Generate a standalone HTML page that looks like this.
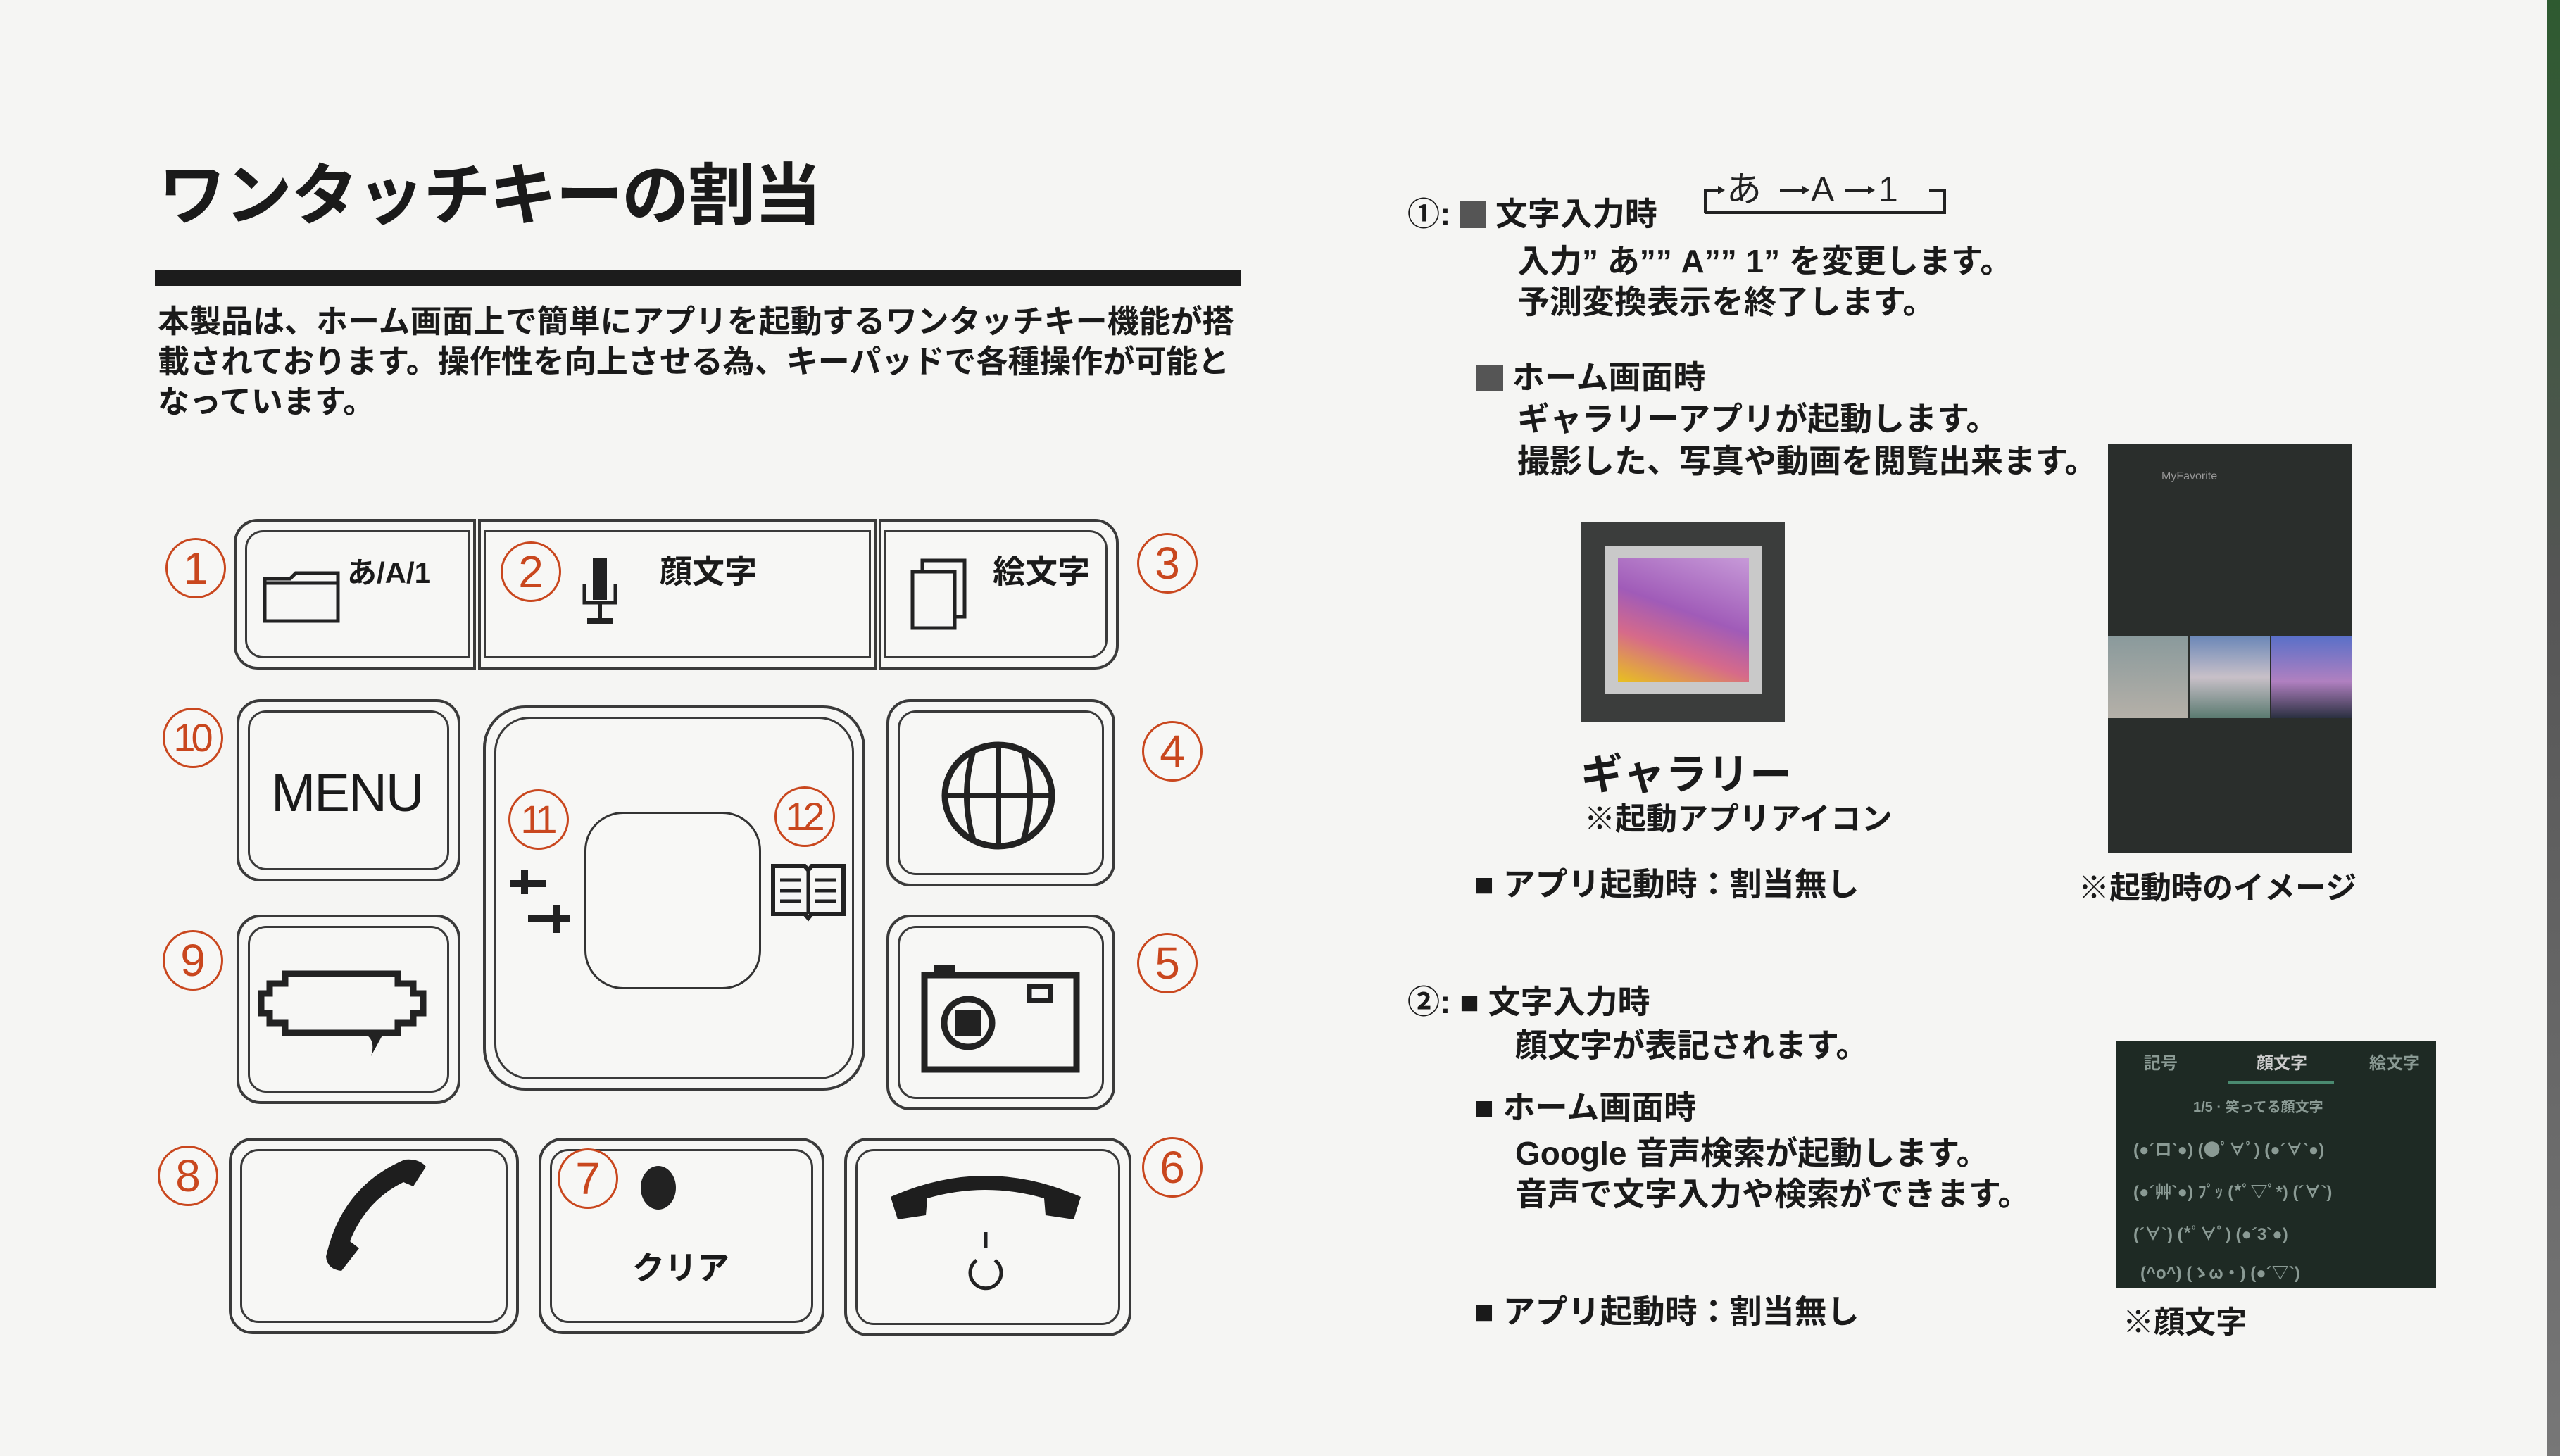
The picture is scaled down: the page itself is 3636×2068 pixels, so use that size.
<!DOCTYPE html>
<html><head><meta charset="utf-8"><style>
*{margin:0;padding:0;box-sizing:border-box}
body{width:3636px;height:2068px;background:#f5f5f3;position:relative;overflow:hidden;font-family:"Liberation Sans","Noto Sans CJK JP",sans-serif;color:#1a1a1a}
.a{position:absolute;white-space:nowrap}
.k{position:absolute;border:4px solid #3a3a3a;border-radius:34px;background:#f7f7f5}
.k>.i{position:absolute;left:12px;top:12px;right:12px;bottom:12px;border:3px solid #3a3a3a;border-radius:26px}
.c{position:absolute;width:86px;height:86px;border:3px solid #c9471e;border-radius:50%;color:#c9471e;font-size:64px;line-height:80px;text-align:center;font-family:"Liberation Sans",sans-serif;background:#f7f7f5}
.c.s{font-size:56px;letter-spacing:-6px;text-indent:-5px}
.t{font-size:46px;font-weight:bold}
.r{font-size:44px}
</style></head><body>
<div class="a" style="left:225px;top:200px;font-size:96px;font-weight:bold;letter-spacing:-2px">ワンタッチキーの割当</div>
<div class="a" style="left:220px;top:383px;width:1542px;height:23px;background:#1c1c1c"></div>
<div class="a" style="left:224px;top:428px;font-size:45px;font-weight:bold;line-height:57px">本製品は、ホーム画面上で簡単にアプリを起動するワンタッチキー機能が搭<br>載されております。操作性を向上させる為、キーパッドで各種操作が可能と<br>なっています。</div>

<!-- row1 -->
<div class="k" style="left:332px;top:737px;width:344px;height:214px;border-radius:34px 0 0 34px"><div class="i" style="border-radius:26px 0 0 26px;right:4px"></div></div>
<div class="k" style="left:679px;top:737px;width:566px;height:214px;border-radius:0"><div class="i" style="border-radius:0;left:4px;right:4px"></div></div>
<div class="k" style="left:1248px;top:737px;width:341px;height:214px;border-radius:0 34px 34px 0"><div class="i" style="border-radius:0 26px 26px 0;left:4px"></div></div>
<svg class="a" style="left:372px;top:800px" width="130" height="90" viewBox="0 0 130 90"><path d="M4 22 H40 L48 14 H108 V28 H4 Z M4 28 H108 V82 H4 Z" fill="none" stroke="#222" stroke-width="5"/></svg>
<div class="a" style="left:493px;top:780px;font-size:42px;font-weight:bold">あ/A/1</div>
<svg class="a" style="left:822px;top:790px" width="60" height="110" viewBox="0 0 60 110"><rect x="20" y="2" width="20" height="60" fill="#222"/><path d="M8 40 V66 H52 V40" fill="none" stroke="#222" stroke-width="5"/><rect x="27" y="66" width="6" height="24" fill="#222"/><rect x="12" y="88" width="36" height="8" fill="#222"/></svg>
<div class="a" style="left:937px;top:776px;font-size:46px;font-weight:bold">顔文字</div>
<svg class="a" style="left:1290px;top:790px" width="90" height="110" viewBox="0 0 90 110"><rect x="20" y="6" width="60" height="80" fill="none" stroke="#222" stroke-width="5"/><rect x="6" y="22" width="60" height="80" fill="#f7f7f5" stroke="#222" stroke-width="5"/></svg>
<div class="a" style="left:1410px;top:776px;font-size:46px;font-weight:bold">絵文字</div>

<!-- row2/3 -->
<div class="k" style="left:336px;top:993px;width:318px;height:259px"><div class="i"></div></div>
<div class="a" style="left:385px;top:1083px;font-size:76px;letter-spacing:-2px">MENU</div>
<div class="k" style="left:686px;top:1002px;width:543px;height:547px;border-radius:60px"><div class="i" style="border-radius:50px"></div></div>
<div class="a" style="left:830px;top:1153px;width:251px;height:252px;border:3px solid #333;border-radius:55px;background:#f8f8f6"></div>
<svg class="a" style="left:715px;top:1230px" width="100" height="100" viewBox="0 0 100 100"><path d="M10 25 H60 M30 5 V40 M35 75 H95 M75 55 V95" stroke="#222" stroke-width="10" fill="none"/></svg>
<svg class="a" style="left:1093px;top:1220px" width="110" height="90" viewBox="0 0 110 90"><path d="M5 10 H50 L55 16 L60 10 H105 V78 H60 L55 84 L50 78 H5 Z" fill="none" stroke="#222" stroke-width="6"/><path d="M55 16 V78 M15 30 H45 M15 45 H45 M15 60 H45 M65 30 H95 M65 45 H95 M65 60 H95" stroke="#222" stroke-width="5"/></svg>
<div class="k" style="left:1259px;top:993px;width:325px;height:266px"><div class="i"></div></div>
<svg class="a" style="left:1333px;top:1050px" width="170" height="160" viewBox="0 0 170 160"><ellipse cx="85" cy="80" rx="76" ry="72" fill="none" stroke="#222" stroke-width="9"/><path d="M85 8 V152 M9 80 H161 M50 15 Q30 80 50 145 M120 15 Q140 80 120 145" fill="none" stroke="#222" stroke-width="8"/></svg>
<div class="k" style="left:336px;top:1299px;width:318px;height:269px"><div class="i"></div></div>
<svg class="a" style="left:365px;top:1375px" width="250" height="130" viewBox="0 0 250 130"><path d="M40 8 H200 V22 H222 V36 H236 V64 H222 V78 H200 V92 H40 V78 H18 V64 H6 V36 H18 V22 H40 Z" fill="none" stroke="#222" stroke-width="9"/><path d="M150 92 Q170 100 162 125 L180 92 Z" fill="#222"/></svg>
<div class="k" style="left:1259px;top:1299px;width:325px;height:278px"><div class="i"></div></div>
<svg class="a" style="left:1307px;top:1365px" width="230" height="160" viewBox="0 0 230 160"><rect x="6" y="20" width="216" height="134" fill="none" stroke="#222" stroke-width="9"/><rect x="20" y="6" width="30" height="16" fill="#222"/><rect x="155" y="36" width="30" height="20" fill="none" stroke="#222" stroke-width="7"/><circle cx="68" cy="88" r="34" fill="none" stroke="#222" stroke-width="9"/><rect x="50" y="70" width="36" height="36" fill="#222"/></svg>

<!-- row4 -->
<div class="k" style="left:325px;top:1616px;width:412px;height:279px"><div class="i"></div></div>
<svg class="a" style="left:425px;top:1635px" width="200" height="180" viewBox="0 0 200 180"><path d="M150 12 Q170 10 180 22 L162 50 L148 44 Q95 70 72 128 L85 138 L60 170 Q40 168 38 150 Q60 50 150 12 Z" fill="#1e1e1e"/></svg>
<div class="k" style="left:765px;top:1616px;width:406px;height:279px"><div class="i"></div></div>
<div class="a" style="left:910px;top:1656px;width:50px;height:62px;border-radius:50%;background:#222"></div>
<div class="a" style="left:898px;top:1765px;font-size:46px;font-weight:bold">クリア</div>
<div class="k" style="left:1199px;top:1616px;width:408px;height:282px"><div class="i"></div></div>
<svg class="a" style="left:1255px;top:1650px" width="290" height="200" viewBox="0 0 290 200"><path d="M10 50 Q145 -10 280 50 L270 82 L230 76 L228 52 Q145 28 62 52 L60 76 L20 82 Z" fill="#1e1e1e"/><path d="M145 100 V122" stroke="#222" stroke-width="5"/><path d="M132 140 A22 22 0 1 0 158 140" fill="none" stroke="#222" stroke-width="5"/></svg>

<!-- circles -->
<div class="c" style="left:235px;top:764px">1</div>
<div class="c" style="left:711px;top:769px">2</div>
<div class="c" style="left:1615px;top:757px">3</div>
<div class="c s" style="left:231px;top:1005px">10</div>
<div class="c" style="left:1622px;top:1024px">4</div>
<div class="c s" style="left:722px;top:1121px">11</div>
<div class="c s" style="left:1100px;top:1117px">12</div>
<div class="c" style="left:231px;top:1321px">9</div>
<div class="c" style="left:1615px;top:1325px">5</div>
<div class="c" style="left:224px;top:1627px">8</div>
<div class="c" style="left:792px;top:1631px">7</div>
<div class="c" style="left:1622px;top:1615px">6</div>

<!-- right side -->
<div class="a t" style="left:1999px;top:268px">①: <span style="display:inline-block;width:38px;height:38px;background:#555;vertical-align:-4px"></span> 文字入力時</div>
<svg class="a" style="left:2410px;top:240px" width="370" height="80" viewBox="0 0 370 80">
<path d="M12 62 V30 H30 M12 62 H352 V30 H330" fill="none" stroke="#222" stroke-width="4"/>
<path d="M30 24 L40 30 L30 36 Z M150 24 L160 30 L150 36 Z M243 24 L253 30 L243 36 Z" fill="#222"/>
<path d="M118 30 H150 M210 30 H243" stroke="#222" stroke-width="4"/>
<text x="42" y="46" font-size="50" font-family="Liberation Sans,Noto Sans CJK JP,sans-serif" fill="#222">あ</text>
<text x="162" y="46" font-size="50" font-family="Liberation Sans,sans-serif" fill="#222">A</text>
<text x="258" y="46" font-size="50" font-family="Liberation Sans,sans-serif" fill="#222">1</text>
</svg>
<div class="a t" style="left:2155px;top:342px;line-height:58px">入力” あ”” A”” 1” を変更します。<br>予測変換表示を終了します。</div>
<div class="a t" style="left:2097px;top:500px"><span style="display:inline-block;width:38px;height:38px;background:#555;vertical-align:-4px"></span> ホーム画面時</div>
<div class="a t" style="left:2155px;top:565px;line-height:60px">ギャラリーアプリが起動します。<br>撮影した、写真や動画を閲覧出来ます。</div>
<div class="a" style="left:2245px;top:742px;width:290px;height:283px;background:#3b3d3c"></div>
<div class="a" style="left:2280px;top:776px;width:222px;height:210px;background:#c9c9c9"></div>
<div class="a" style="left:2298px;top:792px;width:186px;height:176px;background:linear-gradient(200deg,#c79ad8 0%,#a05bb8 45%,#d66a8a 70%,#e8c020 100%)"></div>
<div class="a" style="left:2245px;top:1052px;font-size:60px;font-weight:bold">ギャラリー</div>
<div class="a t" style="left:2250px;top:1127px;font-size:44px">※起動アプリアイコン</div>
<div class="a" style="left:2994px;top:631px;width:346px;height:580px;background:#2a2e2c"></div>
<div class="a" style="left:3070px;top:668px;font-size:16px;color:#999">MyFavorite</div>
<div class="a" style="left:2994px;top:904px;width:114px;height:116px;background:linear-gradient(#8a9a9c,#b5b0a8)"></div>
<div class="a" style="left:3110px;top:904px;width:114px;height:116px;background:linear-gradient(#6c88b8,#c8c0c8 50%,#5a7a70)"></div>
<div class="a" style="left:3226px;top:904px;width:114px;height:116px;background:linear-gradient(#5a70c8,#b080c0 55%,#2a3040)"></div>
<div class="a t" style="left:2952px;top:1225px;font-size:44px">※起動時のイメージ</div>
<div class="a t" style="left:2094px;top:1220px">■ アプリ起動時：割当無し</div>
<div class="a t" style="left:1999px;top:1387px">②: ■ 文字入力時</div>
<div class="a t" style="left:2152px;top:1449px">顔文字が表記されます。</div>
<div class="a t" style="left:2094px;top:1537px">■ ホーム画面時</div>
<div class="a t" style="left:2152px;top:1609px;line-height:58px">Google 音声検索が起動します。<br>音声で文字入力や検索ができます。</div>
<div class="a t" style="left:2094px;top:1827px">■ アプリ起動時：割当無し</div>
<div class="a" style="left:3005px;top:1478px;width:455px;height:352px;background:#1e2a24;color:#8a9a94;font-size:24px;font-weight:bold">
<div class="a" style="left:40px;top:12px">記号</div><div class="a" style="left:200px;top:12px;color:#ccc">顔文字</div><div class="a" style="left:360px;top:12px">絵文字</div>
<div class="a" style="left:160px;top:58px;width:150px;height:4px;background:#4a8a70"></div>
<div class="a" style="left:110px;top:78px;font-size:20px">1/5 · 笑ってる顔文字</div>
<div class="a" style="left:25px;top:135px">(●´ロ`●)    (●ﾟ∀ﾟ)    (●´∀`●)</div>
<div class="a" style="left:25px;top:195px">(●´艸`●)  ﾌﾟｯ  (*ﾟ▽ﾟ*)  (´∀`)</div>
<div class="a" style="left:25px;top:255px">(´∀`)    (*ﾟ∀ﾟ)    (●´3`●)</div>
<div class="a" style="left:35px;top:310px">(^o^)    (ゝω・)    (●´▽`)</div>
</div>
<div class="a t" style="left:3015px;top:1842px;font-size:44px">※顔文字</div>
<div class="a" style="left:3618px;top:0;width:18px;height:2068px;background:linear-gradient(#2e5a30,#555 40%,#777)"></div>
</body></html>
